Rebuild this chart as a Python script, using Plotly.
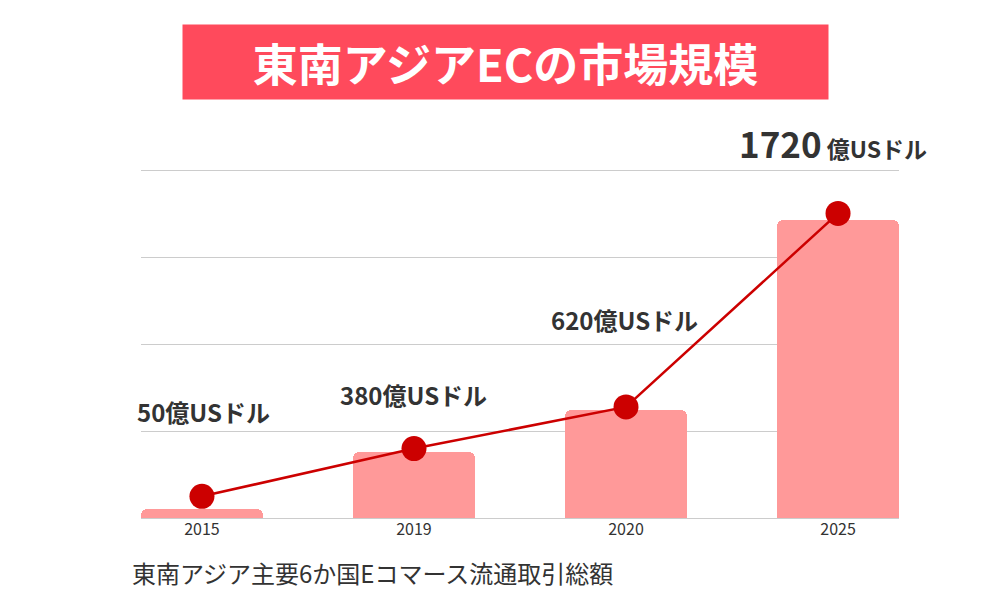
import plotly.graph_objects as go

years = ["2015", "2019", "2020", "2025"]
market_values = [50, 380, 620, 1720]          # 億USドル (bar heights)
line_values = [125, 400, 640, 1755]            # marker positions as drawn
value_labels = ["50億USドル", "380億USドル", "620億USドル", "1720億USドル"]
title_text = "東南アジアECの市場規模"
note_text = "東南アジア主要6か国Eコマース流通取引総額"
grid_ticks = [0, 500, 1000, 1500, 2000]

W, H = 1000, 600
L, R, T, B = 141, 101, 169, 82
pw, ph = W - L - R, H - T - B


def px_x(px):
    return (px - L) / pw


def px_y(py):
    return (H - B - py) / ph


FONT = "Noto Sans CJK JP"
DARK = "#333333"

fig = go.Figure()
fig.add_trace(go.Bar(
    x=years, y=market_values, width=0.575,
    marker=dict(color="#FF9999", cornerradius=6, line=dict(width=0)),
    hoverinfo="skip",
))
fig.add_trace(go.Scatter(
    x=years, y=line_values, mode="lines+markers",
    line=dict(color="#CC0000", width=2.5),
    marker=dict(color="#CC0000", size=25),
    cliponaxis=False, hoverinfo="skip",
))

annotations = []
# title box
annotations.append(dict(
    xref="paper", yref="paper", x=px_x(505.5), y=px_y(62),
    xanchor="center", yanchor="middle", showarrow=False,
    text="<b>" + title_text + "</b>",
    font=dict(family=FONT, size=45, color="white"),
    bgcolor="#FF4A5C", width=645, height=74, borderpad=0,
))
# value labels
label_pos = [(203, 411), (413, 394), (624, 319)]
for i in range(3):
    cx, cy = label_pos[i]
    annotations.append(dict(
        xref="paper", yref="paper", x=px_x(cx), y=px_y(cy),
        xanchor="center", yanchor="middle", showarrow=False,
        text="<b>" + value_labels[i] + "</b>",
        font=dict(family=FONT, size=24, color=DARK),
    ))
big_num = value_labels[3].replace("億USドル", "")
annotations.append(dict(
    xref="paper", yref="paper", x=px_x(833), y=px_y(143),
    xanchor="center", yanchor="middle", showarrow=False,
    text="<b><span style='font-size:35px'>" + big_num + "</span> 億USドル</b>",
    font=dict(family=FONT, size=23, color=DARK),
))
# footnote
annotations.append(dict(
    xref="paper", yref="paper", x=px_x(130), y=px_y(572),
    xanchor="left", yanchor="middle", showarrow=False,
    text=note_text,
    font=dict(family=FONT, size=24, color=DARK),
))

fig.update_layout(
    width=W, height=H,
    margin=dict(l=L, r=R, t=T, b=B, pad=0),
    paper_bgcolor="white", plot_bgcolor="white",
    showlegend=False,
    annotations=annotations,
    xaxis=dict(type="category", range=[-0.2875, 3.2875],
               showgrid=False, zeroline=False, showline=False,
               ticks="", tickfont=dict(family=FONT, size=16, color=DARK),
               fixedrange=True),
    yaxis=dict(range=[0, 2011], tickvals=grid_ticks, showticklabels=False,
               showgrid=True, gridcolor="#CCCCCC", gridwidth=1,
               zeroline=True, zerolinecolor="#CCCCCC", zerolinewidth=1,
               showline=False, fixedrange=True),
    bargap=0,
)

fig.write_html("out.html", config={"displayModeBar": False})
